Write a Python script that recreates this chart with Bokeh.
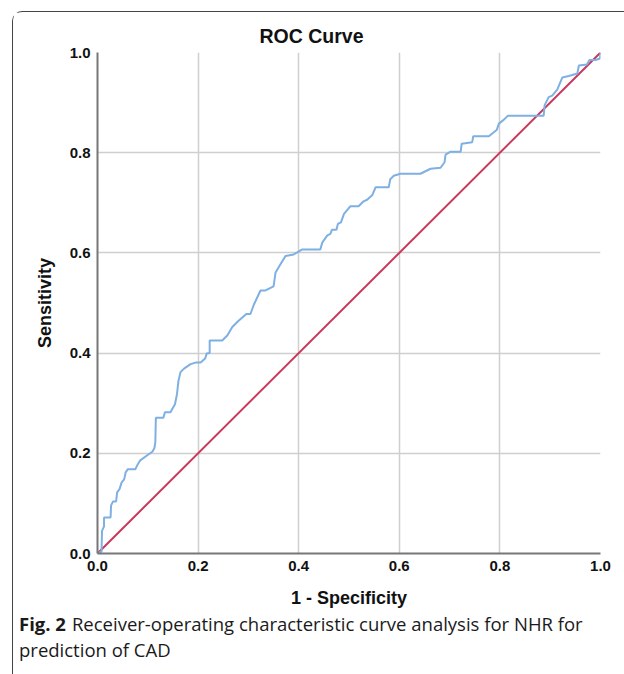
from bokeh.plotting import figure
from bokeh.layouts import column
from bokeh.models import Range1d, Div, FixedTicker, PrintfTickFormatter
from bokeh.embed import file_html
from bokeh.resources import INLINE

# ROC curve points (1 - specificity, sensitivity)
fpr = [0, 0.008, 0.009, 0.013, 0.013, 0.026, 0.027, 0.031, 0.037, 0.039, 0.044, 0.048, 0.053,
       0.056, 0.06, 0.075, 0.079, 0.085, 0.099, 0.109, 0.113, 0.115, 0.116, 0.131, 0.134,
       0.145, 0.154, 0.158, 0.161, 0.165, 0.172, 0.185, 0.195, 0.205, 0.214, 0.217, 0.223,
       0.223, 0.248, 0.258, 0.268, 0.281, 0.296, 0.304, 0.311, 0.324, 0.334, 0.350, 0.354,
       0.364, 0.374, 0.390, 0.397, 0.407, 0.443, 0.447, 0.457, 0.463, 0.466, 0.475, 0.478,
       0.484, 0.49, 0.50, 0.503, 0.519, 0.529, 0.536, 0.546, 0.553, 0.579, 0.582, 0.589,
       0.602, 0.642, 0.662, 0.682, 0.690, 0.692, 0.702, 0.722, 0.724, 0.745, 0.747, 0.778,
       0.788, 0.794, 0.798, 0.808, 0.816, 0.887, 0.889, 0.897, 0.904, 0.914, 0.924, 0.937,
       0.954, 0.957, 0.973, 0.978, 0.99, 0.999, 1.0]
tpr = [0, 0.004, 0.045, 0.054, 0.072, 0.072, 0.096, 0.104, 0.104, 0.122, 0.129, 0.142, 0.148,
       0.162, 0.168, 0.168, 0.176, 0.186, 0.196, 0.203, 0.21, 0.222, 0.271, 0.271, 0.282,
       0.282, 0.298, 0.318, 0.345, 0.362, 0.369, 0.378, 0.381, 0.381, 0.389, 0.399, 0.40,
       0.425, 0.425, 0.435, 0.452, 0.465, 0.478, 0.478, 0.497, 0.525, 0.525, 0.533, 0.561,
       0.578, 0.594, 0.597, 0.601, 0.607, 0.607, 0.621, 0.635, 0.638, 0.646, 0.646, 0.658,
       0.661, 0.678, 0.69, 0.693, 0.693, 0.703, 0.706, 0.715, 0.731, 0.731, 0.747, 0.754,
       0.758, 0.758, 0.768, 0.77, 0.781, 0.796, 0.802, 0.802, 0.818, 0.821, 0.833, 0.833,
       0.841, 0.846, 0.858, 0.866, 0.874, 0.874, 0.895, 0.911, 0.914, 0.926, 0.95, 0.953,
       0.958, 0.974, 0.976, 0.985, 0.985, 0.988, 1.0]
ref_x = [0, 1]
ref_y = [0, 1]
ticks = [0.0, 0.2, 0.4, 0.6, 0.8, 1.0]

title_text = "ROC Curve"
x_label = "1 - Specificity"
y_label = "Sensitivity"
cap_bold = "Fig. 2"
cap_line1 = "Receiver-operating characteristic curve analysis for NHR for"
cap_line2 = "prediction of CAD"

# main chart: placed at page (13, 12) inside a bordered container
W, H = 610, 599
FL, FR, FT, FB = 84, 587, 40, 541  # frame edges in figure pixels

p = figure(width=W, height=H, x_range=Range1d(0, 1), y_range=Range1d(0, 1),
           output_backend="svg", toolbar_location=None,
           min_border_left=FL, min_border_right=W - FR,
           min_border_top=FT, min_border_bottom=H - FB,
           title=title_text)
p.outline_line_color = None
p.background_fill_color = "white"
p.border_fill_color = "white"

p.title.align = "left"
p.title.offset = 162
p.title.text_font = "Liberation Sans"
p.title.text_font_style = "bold"
p.title.text_font_size = "19.5px"
p.title.text_color = "#111111"
p.title.standoff = 11

for ax in (p.xaxis[0], p.yaxis[0]):
    ax.ticker = FixedTicker(ticks=ticks)
    ax.formatter = PrintfTickFormatter(format="%.1f")
    ax.major_tick_out = 0
    ax.major_tick_in = 0
    ax.minor_tick_out = 0
    ax.minor_tick_in = 0
    ax.axis_line_color = "#777777"
    ax.axis_line_width = 2
    ax.major_label_text_font = "Liberation Sans"
    ax.major_label_text_font_style = "bold"
    ax.major_label_text_font_size = "15px"
    ax.major_label_text_color = "#111111"
    ax.axis_label_text_font = "Liberation Sans"
    ax.axis_label_text_font_style = "bold"
    ax.axis_label_text_font_size = "18px"
    ax.axis_label_text_color = "#111111"
    ax.major_label_standoff = 7

p.xaxis[0].axis_label = x_label
p.yaxis[0].axis_label = y_label
p.xaxis[0].axis_label_standoff = 14
p.yaxis[0].axis_label_standoff = 12

for g in (p.xgrid[0], p.ygrid[0]):
    g.ticker = FixedTicker(ticks=ticks)
    g.grid_line_color = "#cfcfcf"
    g.grid_line_width = 1.5

# reference diagonal and ROC curve
p.line(ref_x, ref_y, line_color="#c9385b", line_width=2)
p.line(fpr, tpr, line_color="#7eb0e3", line_width=2)

# caption below the chart
cap_html = (
    '<div style="font-family: \'Open Sans\', sans-serif; font-size: 18.5px; '
    'line-height: 26px; color: #1a1a1a; padding-left: 1px; white-space: nowrap; '
    'position: relative; top: -5px;">'
    f'<b>{cap_bold}</b><span style="margin-left: 6px;">{cap_line1}</span><br>'
    f'{cap_line2}</div>'
)
cap = Div(text=cap_html, width=610, height=61)

layout = column(p, cap, spacing=0, width=612,
                styles={"margin-left": "12px", "margin-top": "11px",
                        "border-left": "1.3px solid #444444",
                        "border-top": "1.3px solid #444444",
                        "border-top-left-radius": "10px"})

open("out.html", "w").write(file_html(layout, INLINE))
